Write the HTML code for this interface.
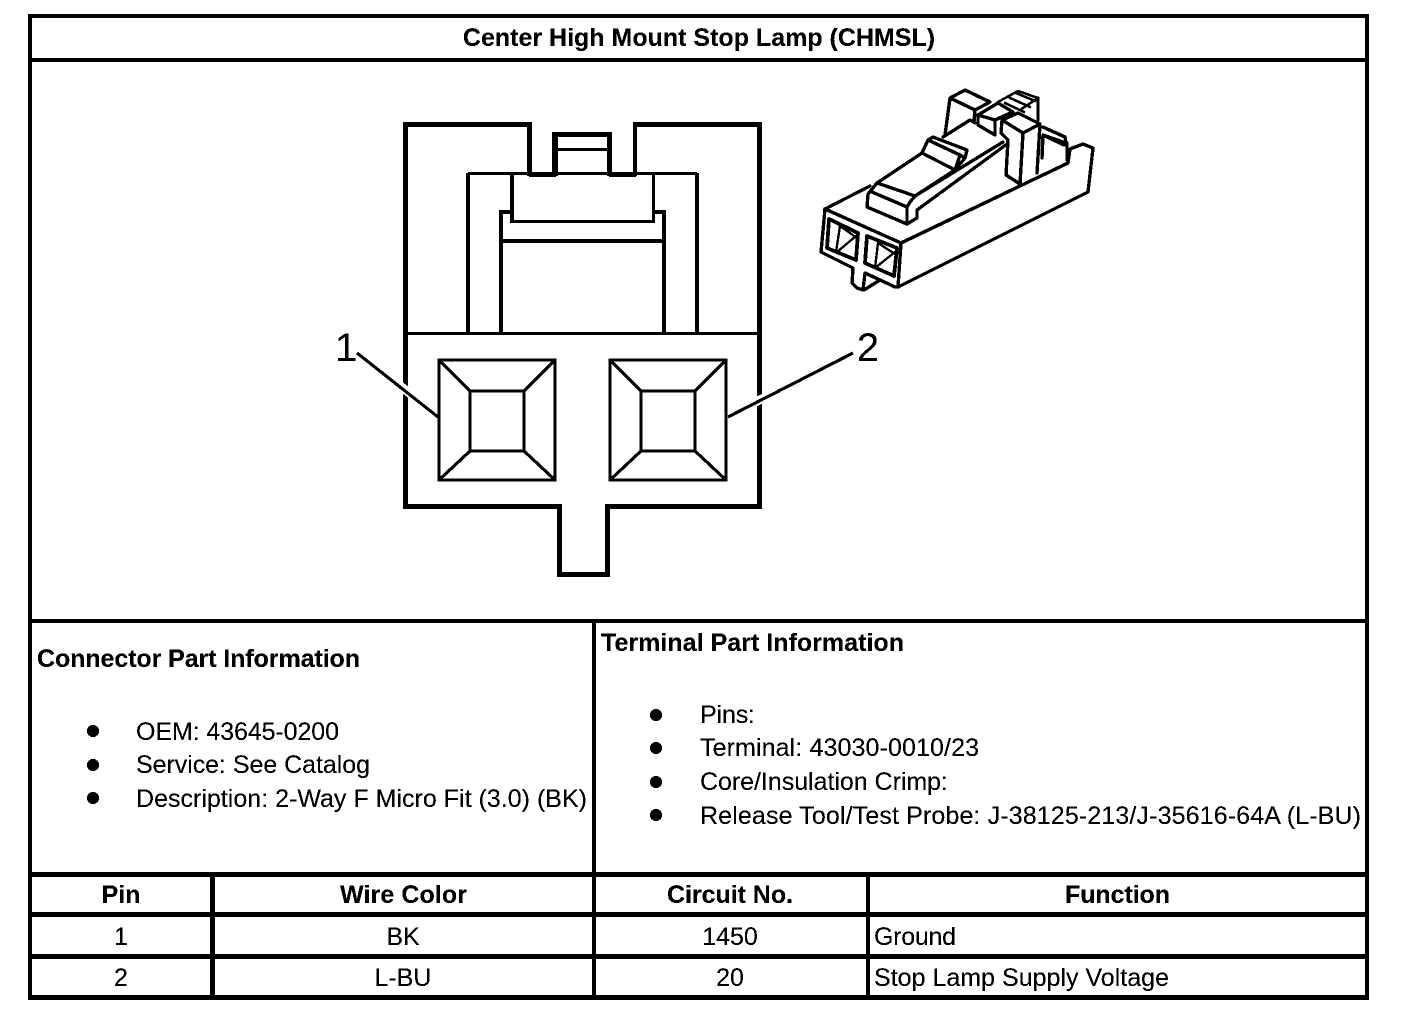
<!DOCTYPE html>
<html><head><meta charset="utf-8"><style>
html,body{margin:0;padding:0;background:#fff}
svg{display:block}
text{font-family:"Liberation Sans",sans-serif;font-size:25px;fill:#000}
.b{font-weight:bold}
.m{text-anchor:middle}
</style></head><body>
<svg width="1408" height="1016" viewBox="0 0 1408 1016" xmlns="http://www.w3.org/2000/svg">
<defs><filter id="bw" x="0" y="0" width="100%" height="100%" color-interpolation-filters="sRGB"><feComponentTransfer><feFuncR type="discrete" tableValues="0 0 1"/><feFuncG type="discrete" tableValues="0 0 1"/><feFuncB type="discrete" tableValues="0 0 1"/></feComponentTransfer></filter></defs>
<g filter="url(#bw)">
<rect width="1408" height="1016" fill="#fff"/>
<g fill="#000" shape-rendering="crispEdges">
<rect x="28" y="14" width="1341" height="4"/>
<rect x="28" y="58" width="1341" height="4"/>
<rect x="28" y="619" width="1341" height="4"/>
<rect x="28" y="872" width="1341" height="5"/>
<rect x="28" y="912" width="1341" height="5"/>
<rect x="28" y="954" width="1341" height="5"/>
<rect x="28" y="995" width="1341" height="5"/>
<rect x="28" y="14" width="4" height="986"/>
<rect x="1365" y="14" width="4" height="986"/>
<rect x="592" y="619" width="4" height="381"/>
<rect x="210" y="872" width="5" height="128"/>
<rect x="866" y="872" width="4" height="128"/>
<!-- connector face -->
<rect x="403" y="122" width="5" height="386"/>
<rect x="757" y="122" width="5" height="386"/>
<rect x="403" y="122" width="129" height="5"/>
<rect x="633" y="122" width="129" height="5"/>
<rect x="527" y="122" width="5" height="54"/>
<rect x="633" y="122" width="4" height="54"/>
<rect x="552" y="132" width="60" height="5"/>
<rect x="552" y="132" width="6" height="44"/>
<rect x="607" y="132" width="5" height="44"/>
<rect x="556" y="148" width="52" height="3"/>
<rect x="468" y="172" width="229" height="3"/>
<rect x="529" y="172" width="27" height="5"/>
<rect x="609" y="172" width="27" height="5"/>
<rect x="466" y="173" width="4" height="160"/>
<rect x="695" y="173" width="4" height="160"/>
<rect x="510" y="173" width="4" height="50"/>
<rect x="652" y="173" width="3" height="50"/>
<rect x="510" y="220" width="145" height="3"/>
<rect x="499" y="210" width="12" height="4"/>
<rect x="654" y="210" width="12" height="4"/>
<rect x="499" y="210" width="4" height="123"/>
<rect x="662" y="210" width="4" height="123"/>
<rect x="500" y="239" width="165" height="4"/>
<rect x="403" y="332" width="359" height="3"/>
<rect x="403" y="504" width="159" height="5"/>
<rect x="605" y="504" width="157" height="5"/>
<rect x="557" y="504" width="5" height="73"/>
<rect x="605" y="504" width="5" height="73"/>
<rect x="557" y="572" width="53" height="5"/>
</g>
<!-- leaders -->
<g fill="none" stroke-linecap="butt">
<line x1="395" y1="382" x2="420" y2="401" stroke="#fff" stroke-width="9"/>
<line x1="772" y1="394" x2="745" y2="407" stroke="#fff" stroke-width="9"/>
<line x1="357" y1="353" x2="438" y2="417" stroke="#000" stroke-width="3"/>
<line x1="853" y1="353" x2="728" y2="417" stroke="#000" stroke-width="3"/>
</g>
<!-- cavities -->
<g fill="none" stroke="#000" stroke-width="3">
<rect x="439" y="360" width="116" height="120"/>
<rect x="470" y="391" width="54" height="60"/>
<path d="M439 360L470 391M555 360L524 391M439 480L470 451M555 480L524 451"/>
<rect x="610" y="360" width="116" height="120"/>
<rect x="641" y="391" width="54" height="60"/>
<path d="M610 360L641 391M726 360L695 391M610 480L641 451M726 480L695 451"/>
</g>
<!-- isometric view -->
<g fill="none" stroke="#000" stroke-width="3.2" stroke-linejoin="round" stroke-linecap="round">
<path d="M825 209L901 243L898 287L1088 192L1093 148L1083 144L1070 149L1068 163L901 243"/>
<path d="M825 209L821 252L853 268L852 283L857 288L863 290L865 273L880 280L864 290M880 280L895 287L898 287"/>
<path d="M825 209L870 186"/>
<path d="M829 219L858 233L856 260L827 248Z" stroke-width="3.6"/>
<path d="M840 226L836 252M840 226L857 238M856 236L837 252" stroke-width="2.2"/>
<path d="M867 236L897 248L894 276L865 263Z" stroke-width="3.6"/>
<path d="M878 243L875 268M878 243L895 254M895 252L875 268" stroke-width="2.2"/>
<path d="M877 183L868 194L867 207L907 224L917 218L917 210L1007 144"/>
<path d="M877 183L915 196L910 202L907 207L907 224M872 192L907 207M915 196L1003 142"/>
<path d="M877 183L922 153L928 140L933 137L967 150L965 158L955 170L922 153M928 140L960 155L955 170M960 155L965 158M955 170L915 196"/>
<path d="M943 137L970 120L975 123"/>
<path d="M945 135L950 98L965 90L990 102L975 110L950 98M975 110L974 122"/>
<path d="M978 115L998 103L1013 112L995 120ZM978 115L978 125L995 135L995 120"/>
<path d="M998 102L1018 91L1038 98L1020 110M1005 103L1024 112M1010 98L1030 107M1016 93L1035 101" stroke-width="2.4"/>
<path d="M1038 98L1038 120"/>
<path d="M1002 120L1001 133L1008 140L1006 175L1020 184L1023 133L1002 120L1018 113L1040 124L1023 133M1040 124L1037 173"/>
<path d="M1043 127L1065 137L1066 143L1043 135L1042 158M1043 135L1064 145L1067 143L1067 160"/>
</g>
<!-- bullets -->
<g fill="#000">
<circle cx="93" cy="731" r="6"/><circle cx="93" cy="765" r="6"/><circle cx="93" cy="798" r="6"/>
<circle cx="656" cy="715" r="6"/><circle cx="656" cy="748" r="6"/><circle cx="656" cy="782" r="6"/><circle cx="656" cy="815" r="6"/>
</g>
<!-- text -->
<text x="699" y="46" class="b m">Center High Mount Stop Lamp (CHMSL)</text>
<text x="346" y="361" class="m" style="font-size:40px">1</text>
<text x="868" y="361" class="m" style="font-size:40px">2</text>
<text x="37" y="667" class="b" textLength="323">Connector Part Information</text>
<text x="136" y="740" textLength="203">OEM: 43645-0200</text>
<text x="136" y="773" textLength="234">Service: See Catalog</text>
<text x="136" y="807" textLength="451">Description: 2-Way F Micro Fit (3.0) (BK)</text>
<text x="601" y="651" class="b" textLength="303">Terminal Part Information</text>
<text x="700" y="723" textLength="55">Pins:</text>
<text x="700" y="756" textLength="279">Terminal: 43030-0010/23</text>
<text x="700" y="790" textLength="248">Core/Insulation Crimp:</text>
<text x="700" y="824" textLength="661">Release Tool/Test Probe: J-38125-213/J-35616-64A (L-BU)</text>
<text x="121" y="903" class="b m">Pin</text>
<text x="340" y="903" class="b" textLength="127">Wire Color</text>
<text x="667" y="903" class="b" textLength="126">Circuit No.</text>
<text x="1065" y="903" class="b" textLength="105">Function</text>
<text x="121" y="945" class="m">1</text>
<text x="403" y="945" class="m">BK</text>
<text x="730" y="945" class="m">1450</text>
<text x="874" y="945" textLength="82">Ground</text>
<text x="121" y="986" class="m">2</text>
<text x="403" y="986" class="m">L-BU</text>
<text x="730" y="986" class="m">20</text>
<text x="874" y="986" textLength="295">Stop Lamp Supply Voltage</text>
</g>
</svg>
</body></html>
